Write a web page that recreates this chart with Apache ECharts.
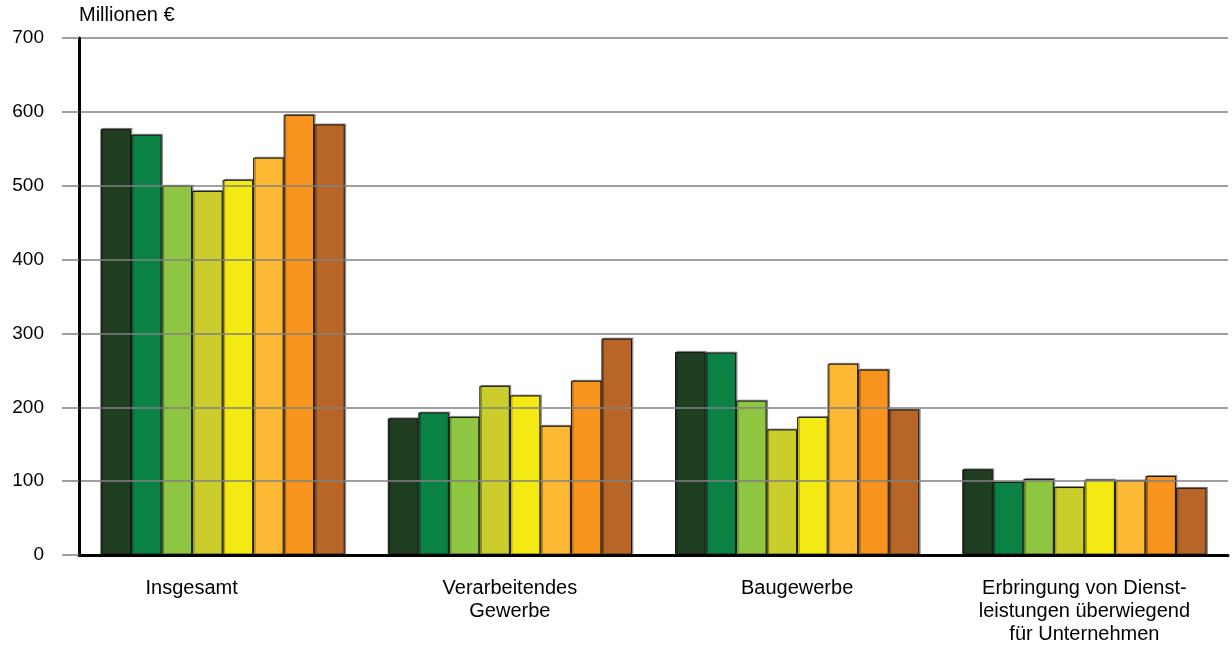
<!DOCTYPE html>
<html>
<head>
<meta charset="utf-8">
<script src="https://cdn.jsdelivr.net/npm/echarts@6/dist/echarts.min.js"></script>
<style>
html,body{margin:0;padding:0;background:#fff;}
#c{width:1232px;height:648px;}
</style>
</head>
<body>
<div id="c"></div>
<script>
const categories = ['Insgesamt', 'Verarbeitendes\nGewerbe', 'Baugewerbe', 'Erbringung von Dienst-\nleistungen überwiegend\nfür Unternehmen'];
const seriesNames = ['Reihe 1', 'Reihe 2', 'Reihe 3', 'Reihe 4', 'Reihe 5', 'Reihe 6', 'Reihe 7', 'Reihe 8'];
const s1 = [577, 185, 275, 116];
const s2 = [569, 193, 274, 99];
const s3 = [500, 187, 209, 103];
const s4 = [493, 229, 170, 92];
const s5 = [508, 216, 187, 102];
const s6 = [538, 175, 259, 101];
const s7 = [596, 236, 251, 107];
const s8 = [583, 293, 197, 91];
const yTicks = [0, 100, 200, 300, 400, 500, 600, 700];
const unitLabel = 'Millionen €';

const colors = ['#203f20', '#0a8243', '#8fc641', '#cbcd2c', '#f4ea13', '#fdb933', '#f7941e', '#b86628'];
const values = [s1, s2, s3, s4, s5, s6, s7, s8];
const font = '"Liberation Sans", Arial, sans-serif';

const chart = echarts.init(document.getElementById('c'), null, {renderer: 'canvas'});
chart.setOption({
  animation: false,
  backgroundColor: '#fff',
  color: colors,
  grid: {left: 79, right: 4, top: 38, bottom: 93, containLabel: false},
  graphic: [{
    type: 'text', left: 79, top: 5,
    style: {text: unitLabel, font: '20px ' + font, fill: '#000'}
  }],
  xAxis: {
    type: 'category',
    data: categories,
    axisLine: {show: true, lineStyle: {color: '#000', width: 3}},
    axisTick: {show: false},
    axisLabel: {
      interval: 0, margin: 22, color: '#000', fontFamily: font, fontSize: 20, lineHeight: 23,
      formatter: function (v, i) { return i === 0 ? '{a|' + v + '}' : v; },
      rich: {a: {fontFamily: font, fontSize: 20, lineHeight: 23, color: '#000', padding: [0, 62, 0, 0]}}
    },
    z: 10
  },
  yAxis: {
    type: 'value',
    min: yTicks[0], max: yTicks[yTicks.length - 1], interval: 100,
    axisLine: {show: true, lineStyle: {color: '#000', width: 3}},
    axisTick: {show: true, length: 17, lineStyle: {color: '#808080', width: 1.5}},
    axisLabel: {margin: 35, color: '#000', fontFamily: font, fontSize: 19},
    splitLine: {show: true, lineStyle: {color: '#808080', width: 1.5}},
    z: 10
  },
  series: values.map((d, i) => ({
    name: seriesNames[i],
    type: 'bar',
    data: d,
    barGap: '0%',
    barCategoryGap: '15%',
    itemStyle: {
      color: colors[i], borderColor: '#111', borderWidth: 1,
      shadowColor: 'rgba(0,0,0,0.35)', shadowOffsetX: 1.5, shadowOffsetY: -1, shadowBlur: 0
    }
  }))
});
</script>
</body>
</html>
